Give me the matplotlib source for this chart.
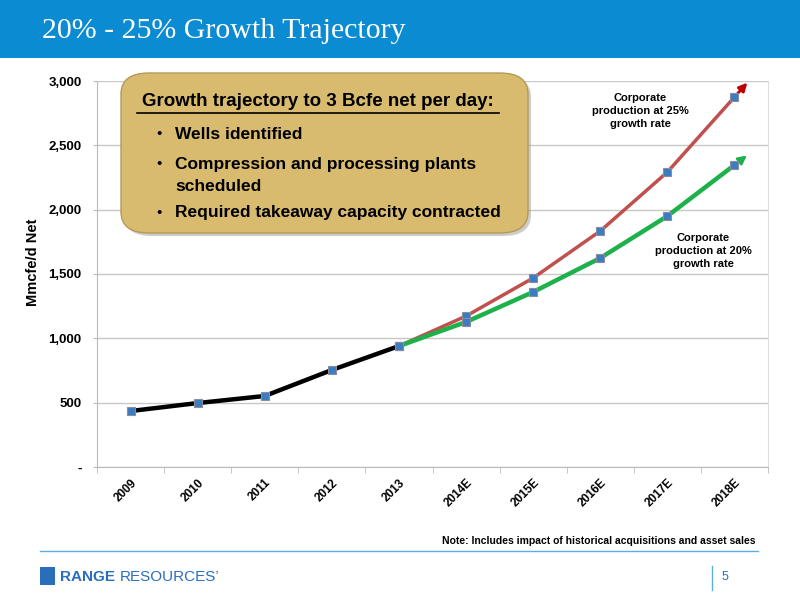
import matplotlib.pyplot as plt
from matplotlib.patches import FancyBboxPatch, Rectangle
from matplotlib.lines import Line2D

plt.rcParams['font.family'] = ['Liberation Sans', 'DejaVu Sans']

years = ["2009", "2010", "2011", "2012", "2013", "2014E", "2015E", "2016E", "2017E", "2018E"]
historical = [435, 497, 552, 754, 940]
growth_25 = [940, 1173, 1469, 1834, 2292, 2875]
growth_20 = [940, 1127, 1360, 1624, 1950, 2347]
y_ticks = [0, 500, 1000, 1500, 2000, 2500, 3000]
y_tick_labels = ["-", "500", "1,000", "1,500", "2,000", "2,500", "3,000"]

W, H = 800, 600
fig = plt.figure(figsize=(8, 6), dpi=100)

def fx(px):
    return px / W

def fy(py):
    return 1 - py / H

# header banner
fig.patches.append(Rectangle((0, fy(58)), 1, 58 / H, transform=fig.transFigure,
                             facecolor='#0B8BD1', edgecolor='none', zorder=0))
fig.text(fx(42), fy(31), "20% - 25% Growth Trajectory", color='white', fontsize=21.5,
         family=['Liberation Serif', 'DejaVu Serif'], va='center', ha='left')

ax = fig.add_axes([fx(97), fy(467), fx(768) - fx(97), fy(81) - fy(467)])
x_hist = list(range(len(historical)))
x_proj = list(range(len(historical) - 1, len(years)))

ax.plot(x_proj, growth_25, color='#C0504D', lw=2.5, zorder=3)
ax.plot(x_proj, growth_20, color='#1DB14B', lw=3.2, zorder=3)
ax.plot(x_hist, historical, color='black', lw=3.2, zorder=4)

mk = dict(marker='s', ms=6, mfc='#3A7DC2', mec='#8C8C9C', mew=0.8, ls='none', zorder=5)
ax.plot(x_proj, growth_25, **mk)
ax.plot(x_proj, growth_20, **mk)
ax.plot(x_hist, historical, **mk)

# arrow heads at end of projections
for series, col in [(growth_25, '#C00000'), (growth_20, '#1DB14B')]:
    x0, y0 = x_proj[-1], series[-1]
    dy = series[-1] - series[-2]
    ax.annotate("", xy=(x0 + 0.22, y0 + dy * 0.22), xytext=(x0, y0),
                arrowprops=dict(arrowstyle='-|>', color=col, lw=2, mutation_scale=12),
                zorder=4)

ax.set_xlim(-0.5, len(years) - 0.5)
ax.set_ylim(0, 3000)
ax.set_yticks(y_ticks)
ax.set_yticklabels(y_tick_labels, fontsize=9.5, fontweight='bold')
ax.set_xticks(range(len(years)))
ax.set_xticklabels(years, rotation=45, ha='right', va='top', rotation_mode='anchor',
                   fontsize=8.5, fontweight='bold')
ax.tick_params(axis='x', length=0, pad=7)
ax.set_xticks([i + 0.5 for i in range(-1, len(years))], minor=True)
ax.tick_params(axis='x', which='minor', length=4, color='#BBBBBB', direction='out')
ax.tick_params(axis='y', length=3, color='#BBBBBB', direction='out', pad=8)
ax.grid(axis='y', color='#C8C8C8', lw=1)
ax.set_axisbelow(True)
ax.spines['top'].set_visible(False)
ax.spines['right'].set_color('#DDDDDD')
ax.spines['left'].set_color('#BBBBBB')
ax.spines['bottom'].set_color('#BBBBBB')
ax.set_ylabel("Mmcfe/d Net", fontsize=10.5, fontweight='bold', va='center')
ax.yaxis.set_label_coords(-0.095, 0.53)

fig.text(fx(640), fy(111), "Corporate\nproduction at 25%\ngrowth rate", ha='center', va='center',
         fontsize=8, fontweight='bold', linespacing=1.35)
fig.text(fx(703), fy(251), "Corporate\nproduction at 20%\ngrowth rate", ha='center', va='center',
         fontsize=8, fontweight='bold', linespacing=1.35)

# gold callout box
bx0, by0, bx1, by1 = 121, 73, 528, 233
fig.patches.append(FancyBboxPatch((fx(bx0 + 3), fy(by1 + 3)), fx(bx1 - bx0), (by1 - by0) / H,
                                  boxstyle='round,pad=0,rounding_size=0.035',
                                  transform=fig.transFigure, facecolor='#9A9A9A', alpha=0.5,
                                  edgecolor='none', zorder=10))
fig.patches.append(FancyBboxPatch((fx(bx0), fy(by1)), fx(bx1 - bx0), (by1 - by0) / H,
                                  boxstyle='round,pad=0,rounding_size=0.035',
                                  transform=fig.transFigure, facecolor='#D9BB6F',
                                  edgecolor='#B59A55', lw=1, zorder=11))
fig.text(fx(318), fy(102), "Growth trajectory to 3 Bcfe net per day:", ha='center', va='center',
         fontsize=13.5, fontweight='bold', zorder=12)
fig.add_artist(Line2D([fx(137), fx(499)], [fy(113), fy(113)], color='black', lw=1.2, zorder=12))
bullets = [("Wells identified", 134), ("Compression and processing plants", 164),
           ("scheduled", 186), ("Required takeaway capacity contracted", 213)]
for txt, py in bullets:
    if txt != "scheduled":
        fig.text(fx(159), fy(py), "•", ha='center', va='center', fontsize=11, zorder=12)
    fig.text(fx(175), fy(py), txt, ha='left', va='center', fontsize=12.5,
             fontweight='bold', zorder=12)

# footer
fig.text(fx(756), fy(541), "Note: Includes impact of historical acquisitions and asset sales",
         ha='right', va='center', fontsize=7.5, fontweight='bold')
fig.add_artist(Line2D([fx(40), fx(758)], [fy(551), fy(551)], color='#5BAFE0', lw=1))
fig.patches.append(Rectangle((fx(40), fy(585)), 15 / W, 18 / H, transform=fig.transFigure,
                             facecolor='#2A6EBB', edgecolor='none'))
fig.text(fx(60), fy(577), "RANGE", color='#2A6EBB', fontsize=11, fontweight='bold',
         ha='left', va='center')
fig.text(fx(120), fy(577), "RESOURCES\u2019", color='#2A6EBB', fontsize=11,
         ha='left', va='center')
fig.add_artist(Line2D([fx(712), fx(712)], [fy(566), fy(590)], color='#5BAFE0', lw=1))
fig.text(fx(722), fy(577), "5", color='#2A6EBB', fontsize=9, ha='left', va='center')

fig.savefig("out.png", dpi=100)
